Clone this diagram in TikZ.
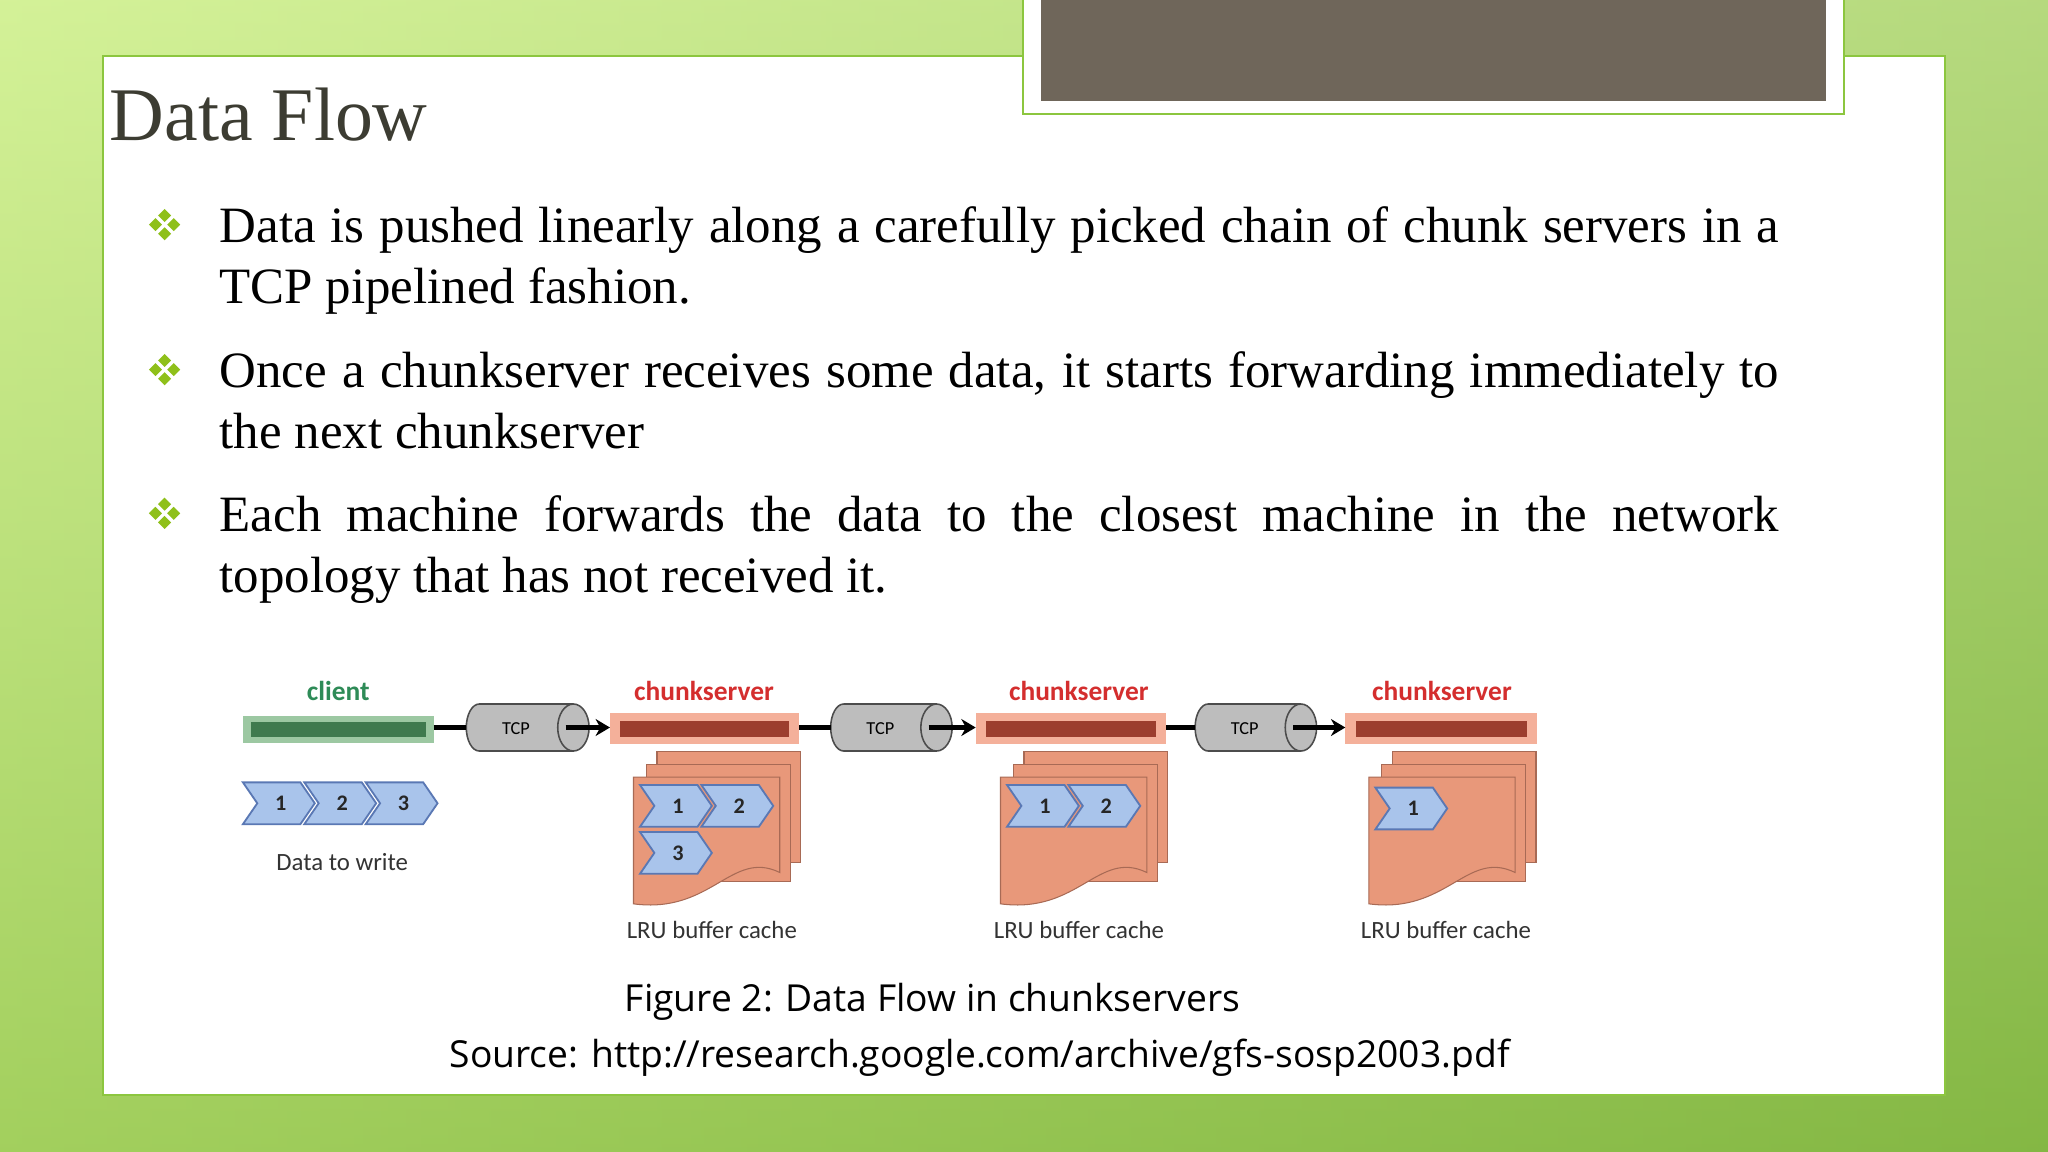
\documentclass[tikz,border=0pt]{standalone}
\usepackage{fontspec}
\setmainfont{Liberation Serif}
\newfontfamily\diag{Carlito}
\newfontfamily\capf{Open Sans}
\usetikzlibrary{arrows.meta,shapes.geometric}
\definecolor{bgA}{HTML}{C9EE7E}
\definecolor{bgB}{HTML}{7DB23E}
\definecolor{frame}{HTML}{8CC63F}
\definecolor{titlec}{HTML}{3C3C32}
\definecolor{bul}{HTML}{8FC01A}
\definecolor{grayb}{HTML}{6F665A}
\definecolor{chevf}{HTML}{A9C4EB}
\definecolor{chevd}{HTML}{5A78B4}
\definecolor{pagef}{HTML}{E8987A}
\definecolor{paged}{HTML}{A86A55}
\definecolor{barout}{HTML}{F4B09A}
\definecolor{barin}{HTML}{9C3E2E}
\definecolor{clout}{HTML}{9CC8A2}
\definecolor{clin}{HTML}{3F7A4E}
\definecolor{clientc}{HTML}{2E8B57}
\definecolor{csc}{HTML}{D42E2E}
\definecolor{tcpf}{HTML}{BDBDBD}
\tikzset{
 chevstyle/.style={fill=chevf,draw=chevd,line width=1.4pt},
 pagestyle/.style={fill=pagef,draw=paged,line width=0.8pt},
 lbl/.style={font=\diag\fontsize{19}{22}\selectfont,text=black!80},
 csl/.style={font=\diag\bfseries\fontsize{21}{24}\selectfont,text=csc},
 tcpstyle/.style={fill=tcpf,draw=black!70,line width=1.2pt},
 conn/.style={line width=4pt,black},
 arr/.style={line width=4pt,black,-{Stealth[length=11pt,width=13pt]}},
 btext/.style={anchor=north west,inner sep=0pt,text width=1194pt,align=justify,font=\fontsize{39}{47}\selectfont},
 capstyle/.style={font=\capf\fontsize{28.5}{32}\selectfont},
}
\newcommand\mychev[4]{% cx cy label name
 \path[chevstyle] (#1-27,#2-16) -- (#1+17,#2-16) -- (#1+28,#2) -- (#1+17,#2+16) -- (#1-27,#2+16) -- (#1-16,#2) -- cycle;
 \node[font=\diag\bfseries\fontsize{17}{20}\selectfont,text=black!85] (#4) at (#1+2,#2) {#3};}
\newcommand\mypages[1]{% x offset
 \begin{scope}[xshift=#1pt]
 \path[pagestyle] (503,575) rectangle (613,660);
 \path[pagestyle] (495,585) rectangle (605,675);
 \path[pagestyle] (485,595) -- (597,595) -- (597,668) .. controls (560,650) and (545,700) .. (485,692) -- cycle;
 \end{scope}}
\newcommand\mybar[3]{% x1 x2 name
 \path[fill=barout] (#1,546) rectangle (#2,570);
 \path[fill=barin] (#1+8,552) rectangle (#2-8,564);
 \coordinate (#3w) at (#1,557); \coordinate (#3e) at (#2,557);}
\newcommand\mytcp[3]{% x1 x2 name
 \path[tcpstyle] (#1+10,539) -- (#2-12,539) arc[start angle=-90,end angle=90,x radius=12,y radius=18] -- (#1+10,575) arc[start angle=90,end angle=270,x radius=10,y radius=18] -- cycle;
 \draw[black!70,line width=1.2pt] (#2-12,539) arc[start angle=270,end angle=90,x radius=12,y radius=18];
 \node[font=\diag\fontsize{14}{16}\selectfont] (#3) at (#1+38,557.5) {TCP};
 \coordinate (#3w) at (#1,557); \coordinate (#3o) at (#2-18,557);}
\begin{document}
\begin{tikzpicture}[x=1pt,y=-1pt]
\useasboundingbox (0,0) rectangle (1568,882);
\shade[left color=bgA,right color=bgB!80!bgA] (0,0) rectangle (1568,882);
\shade[top color=bgA!60!white,bottom color=bgB,opacity=0.5] (0,0) rectangle (1568,882);
\path[fill=white,draw=frame,line width=1.5pt] (79,43) rectangle (1489,838);
\path[fill=white,draw=frame,line width=1.5pt] (783,-5) rectangle (1412,87);
\path[fill=grayb] (797,-5) rectangle (1398,77);
\node[anchor=west,inner sep=0pt,text=titlec,font=\fontsize{58}{60}\selectfont] (title) at (84,88) {Data Flow};
% bullets
\foreach \y [count=\i] in {172,283,393}{
 \foreach \dx/\dy in {0/-7,-7/0,7/0,0/7}{
  \path[fill=bul] (126+\dx,\y+\dy-5) -- (126+\dx+5,\y+\dy) -- (126+\dx,\y+\dy+5) -- (126+\dx-5,\y+\dy) -- cycle;}
}
\node[btext] (b1) at (168,158) {Data is pushed linearly along a carefully picked chain of chunk servers in a\linebreak TCP pipelined fashion.};
\node[btext] (b2) at (168,269) {Once a chunkserver receives some data, it starts forwarding immediately to\linebreak the next chunkserver};
\node[btext] (b3) at (168,379) {Each machine forwards the data to the closest machine in the network\linebreak topology that has not received it.};
% diagram
\node[font=\diag\bfseries\fontsize{21}{24}\selectfont,text=clientc] (client) at (259,529) {client};
\node[csl] (cs1) at (539,529) {chunkserver};
\node[csl] (cs2) at (826,529) {chunkserver};
\node[csl] (cs3) at (1104,529) {chunkserver};
\path[fill=clout] (186,548) rectangle (332,569);
\path[fill=clin] (192,553) rectangle (326,564);
\coordinate (clie) at (332,557);
\mybar{467}{612}{sa}
\mybar{747}{893}{sb}
\mybar{1030}{1177}{sc}
\mytcp{357}{451}{ta}
\mytcp{636}{729}{tb}
\mytcp{915}{1008}{tc}
\draw[conn] (clie) -- (taw);
\draw[conn] (sae) -- (tbw);
\draw[conn] (sbe) -- (tcw);
\draw[arr] (tao) -- (saw);
\draw[arr] (tbo) -- (sbw);
\draw[arr] (tco) -- (scw);
\mychev{213}{615}{1}{d1}
\mychev{260}{615}{2}{d2}
\mychev{307}{615}{3}{d3}
\node[lbl] (dtw) at (262,660) {Data to write};
\mypages{0}
\mypages{281}
\mypages{563}
\mychev{517}{617}{1}{c11}
\mychev{564}{617}{2}{c12}
\mychev{517}{653}{3}{c13}
\mychev{798}{617}{1}{c21}
\mychev{845}{617}{2}{c22}
\mychev{1080}{619}{1}{c31}
\node[lbl] (l1) at (545,712) {LRU buffer cache};
\node[lbl] (l2) at (826,712) {LRU buffer cache};
\node[lbl] (l3) at (1107,712) {LRU buffer cache};
\node[capstyle] (cap1) at (714,767) {Figure 2: Data Flow in chunkservers};
\node[capstyle] (cap2) at (750,810) {Source: http://research.google.com/archive/gfs-sosp2003.pdf};
\end{tikzpicture}
\end{document}
